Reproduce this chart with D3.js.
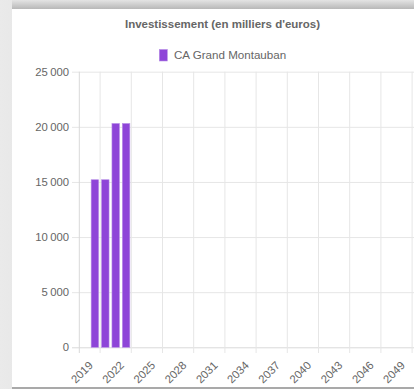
<!DOCTYPE html>
<html>
<head>
<meta charset="utf-8">
<script src="https://cdn.jsdelivr.net/npm/d3@7"></script>
<style>
  body { margin: 0; background: #fff; }
  text { font-family: "Liberation Sans", Arial, sans-serif; }
</style>
</head>
<body>
<script>
// data
const years = d3.range(2018, 2051)
const seriesName = 'CA Grand Montauban'
const invest = [0, 15200, 15200, 20300, 20300]  // 2018..2022, rest empty
const tickYears = [2019, 2022, 2025, 2028, 2031, 2034, 2037, 2040, 2043, 2046, 2049]
const yTicks = [0, 5000, 10000, 15000, 20000, 25000]
const title = "Investissement (en milliers d'euros)"

function main(){
    const W = 414, H = 389
    const svg = d3.select('body')
        .append('svg')
        .attr('width', W)
        .attr('height', H)

    // window shadow frame around the chart panel
    const defs = svg.append('defs')
    const gl = defs.append('linearGradient').attr('id', 'gl')
        .attr('x1', 0).attr('x2', 1).attr('y1', 0).attr('y2', 0)
    gl.append('stop').attr('offset', 0).attr('stop-color', '#eaeaea')
    gl.append('stop').attr('offset', 1).attr('stop-color', '#b4b4b4')
    const gt = defs.append('linearGradient').attr('id', 'gt')
        .attr('x1', 0).attr('x2', 0).attr('y1', 0).attr('y2', 1)
    gt.append('stop').attr('offset', 0).attr('stop-color', '#e4e4e4')
    gt.append('stop').attr('offset', 1).attr('stop-color', '#b8b8b8')

    svg.append('rect').attr('x', 0).attr('y', 0).attr('width', W).attr('height', H).attr('fill', 'url(#gl)')
    svg.append('rect').attr('x', 12).attr('y', 0).attr('width', W - 12).attr('height', 9).attr('fill', 'url(#gt)')
    svg.append('rect').attr('x', 12).attr('y', 9).attr('width', W - 12).attr('height', 378).attr('fill', '#fff')
    svg.append('rect').attr('x', 12).attr('y', 387).attr('width', W - 12).attr('height', 2).attr('fill', '#a9a9a9')

    const x = d3.scaleBand()
        .domain(years)
        .range([79.3, 79.3 + years.length * 10.4])
    const y = d3.scaleLinear()
        .domain([0, 25000])
        .range([347.3, 71.7])

    const fmt = d3.formatLocale({decimal: ',', thousands: '\u202f', grouping: [3], currency: ['', '€']}).format(',d')

    // horizontal grid + y labels
    const yAxis = d3.axisLeft(y)
        .tickValues(yTicks)
        .tickSize(-(x.range()[1] - 72))
        .tickFormat(fmt)
        .tickPadding(3)
    const gy = svg.append('g')
        .attr('transform', 'translate(72,0)')
        .call(yAxis)
    gy.select('.domain').remove()
    gy.selectAll('line').attr('stroke', '#e6e6e6')
    gy.selectAll('text').attr('fill', '#666').attr('font-size', '11.3px')
    gy.selectAll('.tick').filter(d => d === 0).select('line').attr('stroke', '#d9d9d9')

    // vertical grid lines at the end of each labelled year
    const vx = [x.range()[0]].concat(tickYears.map(d => x(d) + x.bandwidth()))
    svg.append('g').selectAll('line')
        .data(vx)
        .enter()
        .append('line')
        .attr('x1', d => d).attr('x2', d => d)
        .attr('y1', y(25000)).attr('y2', 353)
        .attr('stroke', (d, i) => i === 0 ? '#d9d9d9' : '#e6e6e6')

    // x labels
    svg.append('g').selectAll('text')
        .data(tickYears)
        .enter()
        .append('text')
        .attr('transform', d => `translate(${x(d) + 1.8},364) rotate(-45)`)
        .attr('text-anchor', 'end')
        .attr('dominant-baseline', 'middle')
        .attr('font-size', '11.3px')
        .attr('fill', '#666')
        .text(d => d)

    // bars
    const bw = x.bandwidth() * 0.72
    svg.append('g').selectAll('rect')
        .data(invest.map((v, i) => ({year: years[i], v: v})).filter(d => d.v > 0))
        .enter()
        .append('rect')
        .attr('x', d => x(d.year) + (x.bandwidth() - bw) / 2)
        .attr('y', d => y(d.v))
        .attr('width', bw)
        .attr('height', d => y(0) - y(d.v))
        .attr('fill', '#8e45d8')
        .attr('stroke', '#b68de6')
        .attr('stroke-width', 0.6)

    // title
    svg.append('text')
        .attr('x', 222.5)
        .attr('y', 27.5)
        .attr('text-anchor', 'middle')
        .attr('font-size', '11.5px')
        .attr('font-weight', 'bold')
        .attr('fill', '#666')
        .text(title)

    // legend
    svg.append('rect')
        .attr('x', 159.3)
        .attr('y', 49.5)
        .attr('width', 8)
        .attr('height', 11.5)
        .attr('fill', '#8e45d8')
        .attr('stroke', '#b68de6')
        .attr('stroke-width', 0.6)
    svg.append('text')
        .attr('x', 174)
        .attr('y', 59.4)
        .attr('font-size', '11.6px')
        .attr('fill', '#666')
        .text(seriesName)
}

main()
</script>
</body>
</html>
